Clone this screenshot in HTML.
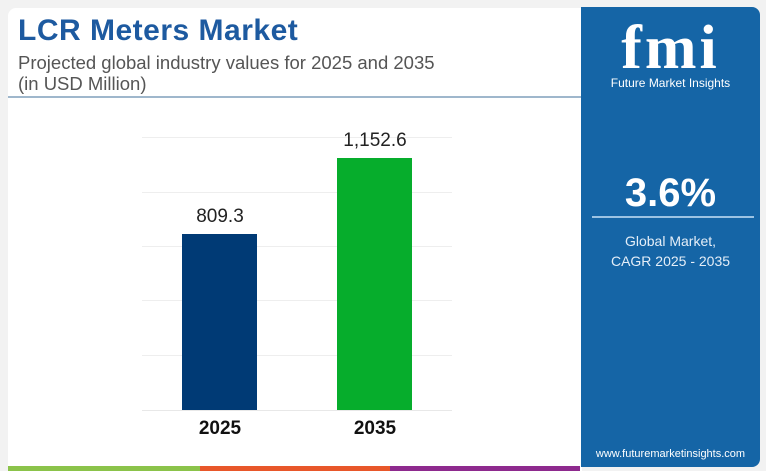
<!DOCTYPE html>
<html><head><style>
body{margin:0;width:766px;height:471px;background:#f2f2f2;font-family:"Liberation Sans",sans-serif;position:relative;overflow:hidden}
.card{position:absolute;left:8px;top:8px;width:574px;height:463px;background:#fff;border-radius:8px 0 0 0}
.t{position:absolute;left:18px;top:14px;font-size:30px;font-weight:bold;color:#1d5aa0;letter-spacing:0.5px}
.s{position:absolute;left:18px;top:52px;font-size:18.5px;color:#555;line-height:21px}
.hl{position:absolute;left:8px;top:96px;width:574px;height:2px;background:#9fb7cc}
.g{position:absolute;left:142px;width:310px;height:1px;background:#eee}
.bar{position:absolute;width:75px}
.v{position:absolute;font-size:19px;color:#222;width:120px;text-align:center}
.x{position:absolute;top:418px;font-size:19px;font-weight:bold;color:#111;width:120px;text-align:center}
.blue{position:absolute;left:581px;top:7px;width:179px;height:460px;background:#1565a6;border-radius:0 8px 8px 0;color:#fff;text-align:center}
</style></head><body>
<div class="card"></div>
<div class="t">LCR Meters Market</div>
<div class="s">Projected global industry values for 2025 and 2035<br>(in USD Million)</div>
<div class="hl"></div>
<div class="g" style="top:137px"></div><div class="g" style="top:192px"></div><div class="g" style="top:246px"></div><div class="g" style="top:300px"></div><div class="g" style="top:355px"></div><div class="g" style="top:410px;background:#e8e8e8"></div>
<div class="bar" style="left:182px;top:234px;height:176px;background:#003a75"></div>
<div class="bar" style="left:337px;top:158px;height:252px;background:#06ad2c"></div>
<div class="v" style="left:160px;top:206px">809.3</div>
<div class="v" style="left:315px;top:130px">1,152.6</div>
<div class="x" style="left:160px">2025</div>
<div class="x" style="left:315px">2035</div>
<div style="position:absolute;left:8px;top:466px;width:192px;height:5px;background:#8bc34a"></div>
<div style="position:absolute;left:200px;top:466px;width:190px;height:5px;background:#e8572a"></div>
<div style="position:absolute;left:390px;top:466px;width:190px;height:5px;background:#8e2a8e"></div>
<div class="blue">
<div style="position:absolute;left:0;width:179px;top:10px;font-family:'Liberation Serif',serif;font-size:62px;font-weight:bold;letter-spacing:3px;line-height:62px">fmi</div>
<div style="position:absolute;left:0;width:179px;top:69px;font-size:12px">Future Market Insights</div>
<div style="position:absolute;left:0;width:179px;top:164px;font-size:40px;font-weight:bold">3.6%</div>
<div style="position:absolute;left:11px;top:209px;width:162px;height:2px;background:#9cc3e3"></div>
<div style="position:absolute;left:0;width:179px;top:224px;font-size:14px;line-height:20px;color:#e4eef8">Global Market,<br>CAGR 2025 - 2035</div>
<div style="position:absolute;left:0;width:179px;top:441px;font-size:11px">www.futuremarketinsights.com</div>
</div>
</body></html>
